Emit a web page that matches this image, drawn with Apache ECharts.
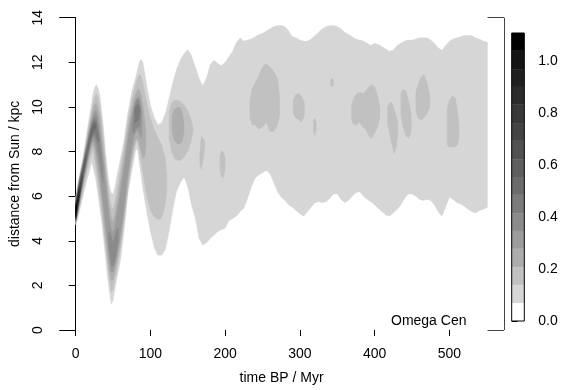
<!DOCTYPE html>
<html>
<head>
<meta charset="utf-8">
<script src="https://cdn.jsdelivr.net/npm/echarts@6/dist/echarts.min.js"></script>
<style>
  html, body { margin: 0; padding: 0; background: #fff; }
  #chart { width: 561px; height: 390px; }
</style>
</head>
<body>
<div id="chart"></div>
<script>
// colour key: density breaks and grey shades (white = lowest band)
const levelBreaks = [0, 0.069, 0.139, 0.208, 0.278, 0.347, 0.416, 0.486, 0.555,
  0.624, 0.694, 0.763, 0.833, 0.902, 0.971, 1.041, 1.11];
const levelColors = ['#ffffff', '#d6d6d6', '#c1c1c1', '#adadad', '#9b9b9b', '#8b8b8b',
  '#7b7b7b', '#6c6c6c', '#5e5e5e', '#515151', '#444444', '#383838', '#2c2c2c',
  '#202020', '#141414', '#000000'];
const colorbarTicks = [0, 0.2, 0.4, 0.6, 0.8, 1.0];
const timeTicks = [0, 100, 200, 300, 400, 500];

// contour bands: [time Myr, lower kpc, upper kpc]
const level1 = [
  [0,4.7,5.95],[2.5,4.95,6.45],[5,5.3,6.95],[7.5,5.65,7.35],[10,6.0,7.8],[12.5,6.35,8.35],
  [15,6.7,8.9],[17.5,7.0,9.4],[20,7.35,9.9],[21.5,7.5,10.25],[22.5,7.4,10.5],[25,7.05,10.85],
  [27.5,6.6,11.0],[30,6.0,10.85],[32.5,5.4,10.5],[35,4.8,9.8],[37.5,4.0,9.0],[40,3.2,8.0],
  [42.5,2.4,7.2],[45,1.7,6.5],[47.5,1.15,6.15],[50,1.3,6.1],[52.5,1.8,6.4],[55,2.3,6.9],
  [57.5,2.7,7.3],[60,3.1,7.7],[62.5,3.8,8.1],[65,4.5,8.6],[67.5,5.3,9.2],[70,6.1,9.8],
  [72.5,6.6,10.2],[75,7.1,10.7],[77.5,7.55,11.0],[80,8.0,11.3],[82.5,8.15,11.65],[85,7.5,12.0],
  [87.5,6.9,12.15],[90,6.3,12.0],[95,5.3,11.0],[100,4.4,10.1],[105,3.7,9.55],[110,3.35,9.2],
  [115,3.35,9.3],[120,3.6,9.7],[125,4.4,10.4],[130,5.4,11.1],[135,6.2,11.7],[140,6.6,12.1],
  [145,6.85,12.4],[150,6.4,12.57],[155,5.6,12.3],[160,5.0,11.8],[165,4.1,11.3],[170,3.8,10.95],
  [175,3.9,11.3],[180,4.1,11.9],[185,4.25,12.1],[190,4.4,11.95],[195,4.5,11.85],[200,4.55,12.0],
  [205,4.9,12.25],[210,5.0,12.5],[215,5.1,12.9],[220,5.3,13.1],[225,5.45,12.95],[230,5.9,13.0],
  [235,6.4,13.05],[240,6.8,13.15],[245,6.95,13.25],[250,7.05,13.3],[255,7.15,13.4],[260,7.0,13.5],
  [265,6.6,13.6],[270,6.2,13.65],[275,5.95,13.65],[280,5.8,13.6],[285,5.6,13.4],[290,5.5,13.15],
  [295,5.35,13.1],[300,5.2,13.0],[305,5.1,12.95],[310,5.3,12.95],[315,5.5,13.05],[320,5.7,13.2],
  [325,5.75,13.35],[330,5.7,13.5],[335,5.75,13.6],[340,5.9,13.65],[345,6.1,13.65],[350,6.1,13.6],
  [355,5.85,13.5],[360,5.7,13.35],[365,5.8,13.25],[370,6.0,13.15],[375,6.15,13.05],[380,6.2,13.0],
  [385,6.0,12.95],[390,5.85,12.85],[395,5.75,12.75],[400,5.6,12.85],[405,5.45,12.8],[410,5.3,12.7],
  [415,5.15,12.6],[420,5.1,12.5],[425,5.25,12.55],[430,5.4,12.75],[435,5.6,12.85],[440,5.9,12.95],
  [445,6.1,13.0],[450,6.1,13.0],[455,6.0,13.05],[460,5.85,13.1],[465,5.8,13.1],[470,5.85,13.1],
  [475,5.8,13.0],[480,5.6,12.85],[485,5.3,12.65],[490,5.1,12.55],[495,5.5,12.75],[500,5.95,12.95],
  [505,5.85,13.05],[510,5.7,13.1],[515,5.65,13.15],[520,5.55,13.2],[525,5.4,13.2],[530,5.3,13.2],
  [535,5.25,13.1],[540,5.35,13.05],[545,5.4,12.95],[551,5.5,12.9]
];

const level2Ridge = [
  [0,4.75,5.9],[2.5,5.05,6.4],[5,5.45,6.85],[7.5,5.85,7.25],[10,6.25,7.65],[12.5,6.65,8.15],
  [15,7.05,8.65],[17.5,7.4,9.15],[20,7.75,9.6],[22.5,8.0,10.05],[24,7.9,10.3],[25,7.65,10.45],
  [27.5,7.1,10.6],[30,6.5,10.45],[32.5,5.85,10.0],[35,5.2,9.35],[37.5,4.45,8.5],[40,3.7,7.6],
  [42.5,2.9,6.8],[45,2.2,6.05],[47.5,1.7,5.6],[50,1.8,5.4],[52.5,2.2,5.8],[55,2.6,6.3],
  [57.5,3.1,6.8],[60,3.6,7.3],[62.5,4.2,7.8],[65,4.9,8.3],[67.5,5.6,8.85],[70,6.3,9.4],
  [72.5,6.9,9.9],[75,7.45,10.35],[77.5,7.95,10.7],[80,8.35,11.0],[82.5,8.5,11.3],[85,8.0,11.45],
  [87.5,7.5,11.4],[90,7.0,11.1],[95,6.0,10.2],[100,5.35,9.5],[105,5.05,9.0],[110,4.95,8.65],
  [115,5.0,8.3],[120,5.6,7.7],[122,6.3,7.0]
];
const level2Oval = [[125,8.6,9.8],[128,8.0,10.15],[132,7.7,10.3],[136,7.6,10.3],[140,7.6,10.25],
  [145,7.75,10.1],[150,8.0,9.85],[154,8.4,9.5],[157,8.85,9.1]];
const level2PatchA = [[166,7.4,7.9],[168,7.2,8.7],[170,7.5,8.6],[172.5,8.1,8.5]];
const level2PatchB = [[193,7.2,7.8],[195,6.85,8.05],[197.5,6.85,8.0],[200,7.2,7.7]];
const level2PatchC = [[233,9.5,10.3],[236,9.2,10.8],[240,9.2,11.1],[245,9.0,11.4],[250,9.1,11.8],
  [255,9.3,11.95],[260,8.9,11.8],[265,8.9,11.6],[270,9.2,11.3],[273,9.6,10.5]];
const level2PatchD = [[291,9.7,10.3],[294,9.5,10.55],[298,9.45,10.6],[302,9.3,10.5],[306,9.6,10.2]];
const level2PatchE = [[318,8.9,9.4],[320,8.7,9.5],[322,9.0,9.3]];
const level2PatchF = [[341,10.95,11.2],[343,10.9,11.3],[345,11.0,11.2]];
const level2PatchG = [[369,9.4,10.1],[372,9.2,10.4],[376,9.2,10.6],[380,9.3,10.65],[384,9.1,10.6],
  [388,9.0,10.7],[392,8.7,10.9],[396,8.6,11.0],[400,8.8,10.9],[404,9.1,10.5],[407,9.5,10.0]];
const level2PatchH = [[417,9.3,10.0],[420,8.8,10.2],[423,8.3,10.2],[426,7.9,9.9],[429,8.2,9.6],[431,8.8,9.3]];
const level2PatchI = [[435,9.6,10.6],[438,9.1,10.8],[442,8.7,10.7],[446,8.6,10.2],[449,8.9,9.7]];
const level2PatchJ = [[455,9.8,10.7],[458,9.5,11.0],[462,9.4,11.35],[466,9.5,11.45],[470,9.7,11.1],[474,10.0,10.5]];
const level2PatchK = [[497,8.3,9.9],[500,8.2,10.3],[504,8.2,10.5],[508,8.2,10.4],[511,8.3,9.8],[513,8.6,9.2]];

const level3Ridge = [
  [0,4.8,5.85],[2.5,5.15,6.35],[5,5.6,6.8],[7.5,6.0,7.2],[10,6.45,7.6],[12.5,6.9,8.05],
  [15,7.3,8.5],[17.5,7.7,8.95],[20,8.05,9.4],[22.5,8.3,9.8],[25,8.15,10.1],[27.5,7.6,10.2],
  [30,7.0,9.95],[32.5,6.35,9.5],[35,5.65,8.8],[37.5,4.9,8.0],[40,4.1,7.15],[42.5,3.35,6.35],
  [45,2.65,5.55],[47.5,2.2,5.1],[50,2.25,4.85],[52.5,2.6,5.2],[55,3.0,5.7],[57.5,3.45,6.2],
  [60,3.95,6.75],[62.5,4.55,7.3],[65,5.2,7.85],[67.5,5.9,8.45],[70,6.6,9.0],[72.5,7.2,9.5],
  [75,7.75,9.95],[77.5,8.2,10.3],[80,8.5,10.55],[82.5,8.6,10.75],[85,8.35,10.8],[87.5,8.0,10.55],
  [90,7.7,10.1],[92.5,7.8,9.5],[94,8.3,8.9]
];
const level3Oval = [[129,8.9,9.6],[132,8.5,9.9],[136,8.35,10.0],[140,8.35,9.95],[143,8.5,9.7],[145,8.9,9.3]];

const level4Ridge = [
  [0,4.82,5.8],[2.5,5.2,6.3],[5,5.7,6.75],[7.5,6.15,7.15],[10,6.6,7.55],[12.5,7.05,7.95],
  [15,7.45,8.35],[17.5,7.85,8.8],[20,8.2,9.2],[22.5,8.45,9.55],[25,8.4,9.8],[27.5,8.0,9.85],
  [30,7.5,9.55],[32.5,6.9,9.0],[35,6.2,8.25],[37.5,5.45,7.5],[40,4.7,6.65],[42.5,3.9,5.85],
  [45,3.15,5.05],[47.5,2.6,4.6],[50,2.6,4.35],[52.5,2.9,4.7],[55,3.3,5.2],[57.5,3.8,5.7],
  [60,4.3,6.25],[62.5,4.9,6.8],[65,5.6,7.35],[67.5,6.3,7.95],[70,7.0,8.55],[72.5,7.6,9.1],
  [75,8.15,9.6],[77.5,8.6,10.0],[80,8.85,10.3],[82.5,8.95,10.45],[85,8.8,10.45],[87.5,8.6,10.15],
  [89,8.8,9.7]
];

const level5Arm = [[0,4.85,5.75],[2.5,5.25,6.25],[5,5.75,6.7],[7.5,6.25,7.1],[10,6.7,7.5],
  [12.5,7.15,7.9],[15,7.55,8.3],[17.5,7.95,8.7],[20,8.35,9.1],[22.5,8.6,9.4],[25,8.65,9.6],
  [27.5,8.4,9.55],[30,8.0,9.2],[32.5,7.5,8.55],[35,6.9,7.8],[37,6.6,6.9]];
const level5Trough = [[44,3.9,4.4],[45,3.5,4.45],[47.5,2.9,4.2],[50,2.85,3.95],[52.5,3.1,4.2],
  [55,3.5,4.5],[57,3.95,4.6]];
const level5Crest = [[76,8.9,9.3],[78,8.8,9.9],[80,9.0,10.2],[82.5,9.1,10.35],[85,9.1,10.3],[87,9.4,9.9]];

const level6Arm = [[0,4.88,5.72],[2.5,5.3,6.2],[5,5.8,6.65],[7.5,6.3,7.05],[10,6.78,7.42],
  [12.5,7.22,7.82],[15,7.65,8.2],[17.5,8.05,8.6],[20,8.45,9.0],[22.5,8.7,9.3],[25,8.8,9.45],
  [27.5,8.65,9.35],[30,8.4,8.9],[31.5,8.5,8.6]];
const level6Crest = [[79,9.3,9.9],[81,9.3,10.1],[84,9.4,10.1],[86,9.6,9.9]];
const level7Arm = [[0,4.9,5.7],[2.5,5.35,6.15],[5,5.85,6.6],[7.5,6.35,7.0],[10,6.85,7.35],
  [12.5,7.3,7.75],[15,7.75,8.1],[17.5,8.15,8.5],[20,8.55,8.9],[22.5,8.8,9.15],[25,8.95,9.3],[27,9.05,9.2]];
const level8Arm = [[0,4.92,5.68],[2.5,5.4,6.1],[5,5.9,6.55],[7.5,6.4,6.95],[10,6.9,7.3],[12.5,7.4,7.65],[14,7.7,7.85]];
const level9Arm = [[0,4.95,5.66],[2.5,5.45,6.05],[5,5.95,6.5],[7.5,6.5,6.85],[9,6.75,6.95]];
const level10Arm = [[0,4.97,5.64],[2.5,5.5,6.0],[5,6.0,6.45],[7,6.45,6.65]];
const level11Arm = [[0,5.0,5.62],[2.5,5.55,5.95],[5,6.05,6.38],[6,6.25,6.4]];
const level12Arm = [[0,5.02,5.6],[2.5,5.6,5.92],[5,6.1,6.3]];
const level13Arm = [[0,5.05,5.58],[2.5,5.65,5.88],[4.5,6.0,6.15]];
const level14Arm = [[0,5.08,5.55],[2.5,5.7,5.82],[3,5.78,5.84]];
const level15Arm = [[0,5.12,5.5],[1.5,5.45,5.6]];

// drawing order: lighter levels first, darker on top
const bands = [
  [1, level1],
  [2, level2Ridge], [2, level2Oval], [2, level2PatchA], [2, level2PatchB], [2, level2PatchC],
  [2, level2PatchD], [2, level2PatchE], [2, level2PatchF], [2, level2PatchG], [2, level2PatchH],
  [2, level2PatchI], [2, level2PatchJ], [2, level2PatchK],
  [3, level3Ridge], [3, level3Oval],
  [4, level4Ridge],
  [5, level5Arm], [5, level5Trough], [5, level5Crest],
  [6, level6Arm], [6, level6Crest],
  [7, level7Arm], [8, level8Arm], [9, level9Arm], [10, level10Arm], [11, level11Arm],
  [12, level12Arm], [13, level13Arm], [14, level14Arm], [15, level15Arm]
];

const FONT = "'Liberation Sans', Arial, Helvetica, sans-serif";

// each band is one filled polygon: lower edge forward, upper edge back
function bandRenderer(lvl) {
  return function (params, api) {
    if (params.dataIndex !== 0) return null;
    const n = params.dataInsideLength;
    const lower = [], upper = [];
    for (let i = 0; i < n; i++) {
      lower.push(api.coord([api.value(0, i), api.value(1, i)]));
      upper.push(api.coord([api.value(0, i), api.value(2, i)]));
    }
    return {
      type: 'polygon',
      shape: { points: lower.concat(upper.reverse()), smooth: 0 },
      style: { fill: levelColors[lvl], stroke: levelColors[lvl], lineWidth: 0.3 }
    };
  };
}

const series = bands.map(([lvl, pts]) => ({
  type: 'custom', silent: true, clip: true,
  data: pts,
  encode: { x: 0, y: [1, 2] },
  renderItem: bandRenderer(lvl)
}));

// frame pieces beside the axes (as in the original plot)
series.push({
  type: 'line', data: [[0, 0]], symbol: 'none', silent: true, lineStyle: { opacity: 0 },
  markLine: {
    symbol: 'none', silent: true, animation: false, label: { show: false },
    lineStyle: { color: '#000', width: 1, type: 'solid' },
    emphasis: { disabled: true },
    data: [
      [{ coord: [-22.04, 14] }, { coord: [0, 14] }],
      [{ coord: [-22.04, 0] }, { coord: [0, 0] }],
      [{ coord: [551, 14], lineStyle: { color: '#444' } }, { coord: [573.04, 14] }],
      [{ coord: [573.04, 14], lineStyle: { color: '#444' } }, { coord: [573.04, 0] }],
      [{ coord: [551, 0], lineStyle: { color: '#444' } }, { coord: [573.04, 0] }]
    ]
  }
});

// colour bar
series.push({
  type: 'custom', xAxisIndex: 1, yAxisIndex: 1, silent: true,
  data: levelColors.map((c, i) => [i, levelBreaks[i], levelBreaks[i + 1]]),
  renderItem(params, api) {
    const a = api.coord([0, api.value(1)]);
    const b = api.coord([1, api.value(2)]);
    return { type: 'rect', shape: { x: a[0], y: b[1], width: b[0] - a[0], height: a[1] - b[1] },
      style: { fill: levelColors[api.value(0)] } };
  }
});
series.push({
  type: 'custom', xAxisIndex: 1, yAxisIndex: 1, silent: true, z: 5,
  data: [[0, levelBreaks[0], levelBreaks[levelBreaks.length - 1]]],
  renderItem(params, api) {
    const a = api.coord([0, api.value(1)]);
    const b = api.coord([1, api.value(2)]);
    return { type: 'rect', shape: { x: a[0], y: b[1], width: b[0] - a[0], height: a[1] - b[1] },
      style: { fill: 'none', stroke: '#000', lineWidth: 1 } };
  }
});

const chart = echarts.init(document.getElementById('chart'), null, { renderer: 'canvas' });
chart.setOption({
  animation: false,
  textStyle: { fontFamily: FONT },
  grid: [
    { left: 59.2, right: 57, top: 17.7, bottom: 52.7 },
    { left: 511.7, width: 12.6, top: 33, height: 288 }
  ],
  xAxis: [
    {
      type: 'value', gridIndex: 0, min: -22.04, max: 573.04,
      name: 'time BP / Myr', nameLocation: 'middle', nameGap: 41,
      nameTextStyle: { fontSize: 14, color: '#000', fontFamily: FONT },
      axisLine: { show: false },
      axisTick: { show: true, length: 6, lineStyle: { color: '#000' }, customValues: timeTicks },
      axisLabel: { fontSize: 14, color: '#000', margin: 17, customValues: timeTicks, fontFamily: FONT },
      splitLine: { show: false }
    },
    { type: 'value', gridIndex: 1, min: 0, max: 1, show: false }
  ],
  yAxis: [
    {
      type: 'value', gridIndex: 0, min: 0, max: 14, interval: 2,
      name: 'distance from Sun / kpc', nameLocation: 'middle', nameRotate: 90, nameGap: 37,
      nameTextStyle: { fontSize: 14, color: '#000', fontFamily: FONT },
      axisLine: { show: true, lineStyle: { color: '#000', width: 1 } },
      axisTick: { show: true, length: 7, lineStyle: { color: '#000' } },
      axisLabel: { fontSize: 14, color: '#000', rotate: 90, margin: 14, fontFamily: FONT },
      splitLine: { show: false }
    },
    {
      type: 'value', gridIndex: 1, position: 'right', min: 0, max: 1.11,
      axisLine: { show: false },
      axisTick: { show: true, length: 6, lineStyle: { color: '#000' }, customValues: colorbarTicks },
      axisLabel: { fontSize: 14, color: '#000', margin: 14, customValues: colorbarTicks,
        formatter: v => v.toFixed(1), fontFamily: FONT },
      splitLine: { show: false }
    }
  ],
  graphic: [{
    type: 'text', left: 391, top: 314,
    style: { text: 'Omega Cen', font: '14px ' + FONT, fill: '#000' }
  }],
  series
});
</script>
</body>
</html>
